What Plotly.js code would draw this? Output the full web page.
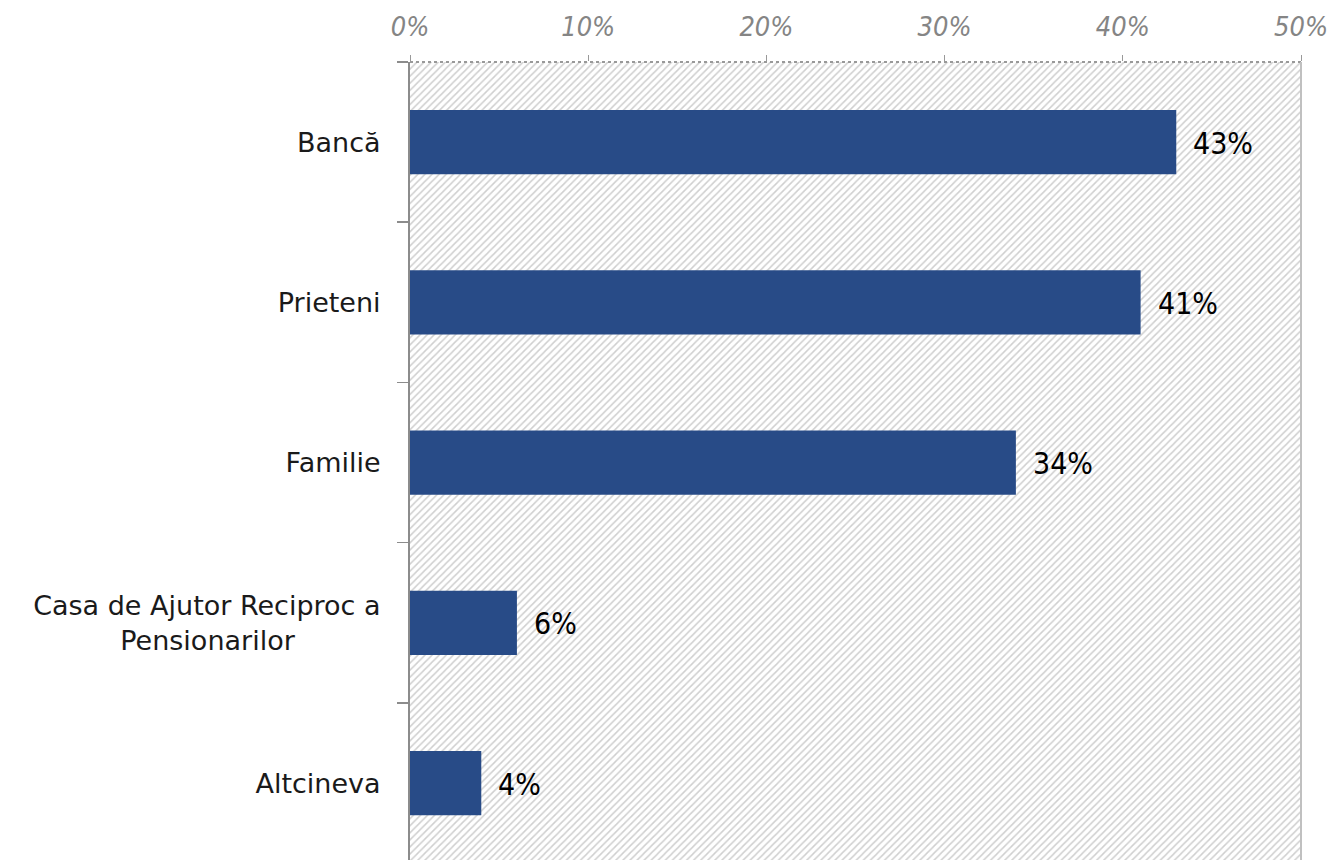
<!DOCTYPE html>
<html><head><meta charset="utf-8">
<script src="https://cdn.plot.ly/plotly-3.0.1.min.js"></script>
<style>html,body{margin:0;padding:0;background:#fff}#chart{width:1332px;height:860px}</style>
</head><body><div id="chart"></div>
<script>
const categories = ["Bancă", "Prieteni", "Familie", "Casa de Ajutor Reciproc a<br>Pensionarilor\u00a0\u00a0\u00a0\u00a0\u00a0\u00a0\u00a0\u00a0\u00a0\u00a0", "Altcineva"];
const values = [43, 41, 34, 6, 4];
const valueLabels = ["43%", "41%", "34%", "6%", "4%"];
const tickVals = [0, 10, 20, 30, 40, 50];
const tickText = ["0%", "10%", "20%", "30%", "40%", "50%"];

const bg = {
  type: 'bar', orientation: 'h', x: [1], y: [0.5], width: [1],
  xaxis: 'x', yaxis: 'y', hoverinfo: 'skip', showlegend: false,
  marker: {color: '#ffffff', line: {width: 0},
    pattern: {shape: '/', fgcolor: '#cfcfcf', bgcolor: '#ffffff', size: 5, solidity: 0.3}}
};
const bars = {
  type: 'bar', orientation: 'h', x: values, y: categories, width: 0.4,
  xaxis: 'x2', yaxis: 'y2',
  marker: {color: '#284b87', line: {width: 0}}, hoverinfo: 'skip', showlegend: false
};
const annotations = values.map((v, i) => ({
  x: v, y: categories[i], xref: 'x2', yref: 'y2', text: valueLabels[i],
  showarrow: false, xanchor: 'left', yanchor: 'middle', xshift: 15, yshift: -1,
  font: {family: 'DejaVu Sans Condensed, sans-serif', size: 30, color: '#000'}
}));
const layout = {
  width: 1332, height: 860,
  margin: {l: 410, r: 31, t: 62, b: 0},
  paper_bgcolor: '#ffffff', plot_bgcolor: '#ffffff',
  barmode: 'overlay',
  xaxis: {range: [0, 1], visible: false, fixedrange: true},
  yaxis: {range: [0, 1], visible: false, fixedrange: true},
  xaxis2: {overlaying: 'x', side: 'top', range: [0, 50], tickvals: tickVals, ticktext: tickText,
    showgrid: false, zeroline: false, showline: false,
    ticks: 'outside', ticklen: 6, tickcolor: '#999', tickwidth: 1, ticklabelstandoff: 8,
    tickfont: {family: 'DejaVu Sans Condensed, sans-serif', size: 27, color: '#858585', style: 'italic'}},
  yaxis2: {overlaying: 'y', type: 'category', autorange: false, range: [4.48, -0.5],
    showgrid: false, zeroline: false, showline: true, linecolor: '#8c8c8c', linewidth: 2,
    ticks: 'outside', tickson: 'boundaries', ticklen: 11, tickcolor: '#8c8c8c', tickwidth: 1.5,
    ticklabelstandoff: 22,
    tickfont: {family: 'DejaVu Sans, sans-serif', size: 27, color: '#1a1a1a'}},
  shapes: [
    {type: 'line', xref: 'paper', yref: 'paper', x0: 0, x1: 1, y0: 1, y1: 1,
     line: {color: '#999', width: 2, dash: 'dot'}},
    {type: 'line', xref: 'paper', yref: 'paper', x0: 1, x1: 1, y0: 0, y1: 1,
     line: {color: '#c0c0c0', width: 2}}
  ],
  annotations: annotations
};
Plotly.newPlot('chart', [bg, bars], layout, {staticPlot: true});
</script></body></html>
